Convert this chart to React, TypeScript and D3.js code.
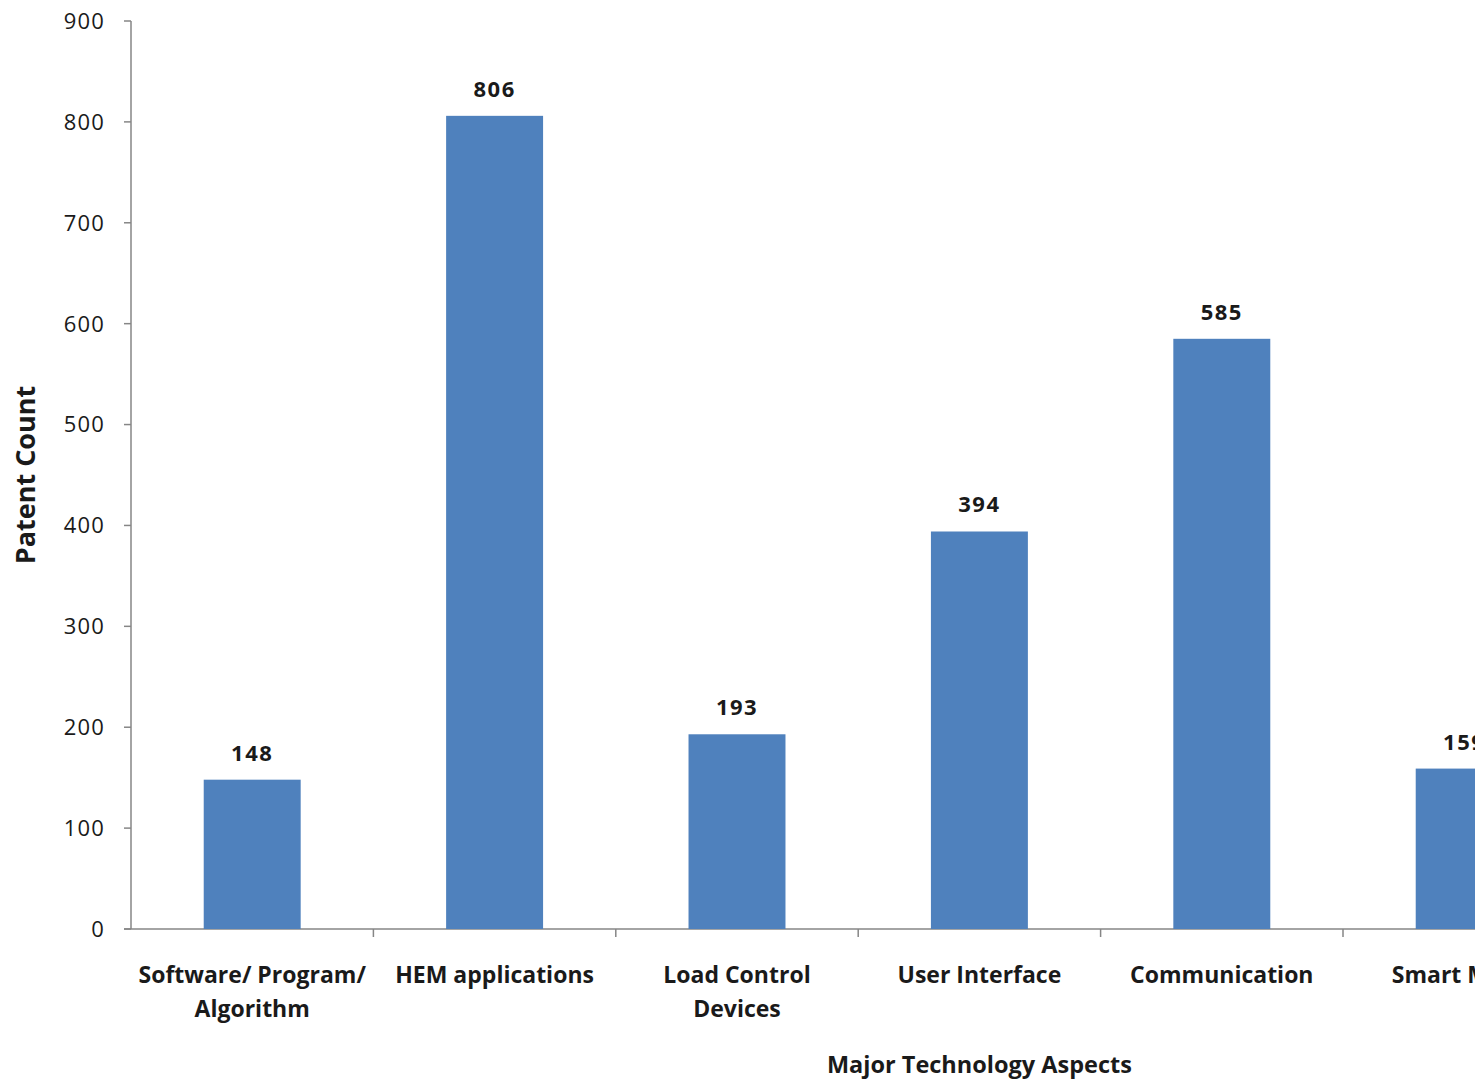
import React from "react";
import * as d3 from "d3";

const categories: string[][] = [
  ["Software/ Program/", "Algorithm"],
  ["HEM applications"],
  ["Load Control", "Devices"],
  ["User Interface"],
  ["Communication"],
  ["Smart Meter"],
];
const values: number[] = [148, 806, 193, 394, 585, 159];
const yTicks: number[] = [0, 100, 200, 300, 400, 500, 600, 700, 800, 900];

const W = 1475;
const H = 1081;
const left = 131;
const step = 242.4;
const top = 21;
const bottom = 929;
const font = "'Open Sans', 'Noto Sans', sans-serif";

export default function App() {
  const ids = categories.map((_, i) => String(i));
  const x = d3
    .scaleBand<string>()
    .domain(ids)
    .range([left, left + step * ids.length])
    .paddingInner(0.6)
    .paddingOuter(0.3);
  const y = d3.scaleLinear().domain([0, 900]).range([bottom, top]);
  const axisColor = "#868686";
  const bw = x.bandwidth();

  return (
    <svg
      width={W}
      height={H}
      style={{ position: "absolute", left: 0, top: 0, background: "#fff", overflow: "hidden" }}
      fontFamily={font}
    >
      <rect x={0} y={0} width={W} height={H} fill="#fff" />
      {/* y axis */}
      <line x1={left} x2={left} y1={top} y2={bottom} stroke={axisColor} strokeWidth={1.5} />
      {yTicks.map((t) => (
        <g key={t}>
          <line x1={left - 7} x2={left} y1={y(t)} y2={y(t)} stroke={axisColor} strokeWidth={1.5} />
          <text x={105} y={y(t)} dy="0.36em" textAnchor="end" fontSize={22} letterSpacing={1.2} fill="#1a1a1a">
            {t}
          </text>
        </g>
      ))}
      {/* x axis */}
      <line x1={left - 7} x2={W + 10} y1={bottom} y2={bottom} stroke={axisColor} strokeWidth={1.5} />
      {ids.map((id, i) => (
        <line
          key={"t" + id}
          x1={left + step * (i + 1)}
          x2={left + step * (i + 1)}
          y1={bottom}
          y2={bottom + 8}
          stroke={axisColor}
          strokeWidth={1.5}
        />
      ))}
      {/* bars */}
      {values.map((v, i) => (
        <g key={"b" + i}>
          <rect x={x(ids[i])!} y={y(v)} width={bw} height={bottom - y(v)} fill="#4F81BD" />
          <text
            x={x(ids[i])! + bw / 2}
            y={y(v) - 19}
            textAnchor="middle"
            fontSize={22}
            letterSpacing={1.5}
            fontWeight="bold"
            fill="#1a1a1a"
          >
            {v}
          </text>
        </g>
      ))}
      {/* category labels */}
      {categories.map((lines, i) => (
        <text
          key={"c" + i}
          x={x(ids[i])! + bw / 2}
          y={983}
          textAnchor="middle"
          fontSize={23}
          fontWeight="bold"
          fill="#1a1a1a"
        >
          {lines.map((l, j) => (
            <tspan key={j} x={x(ids[i])! + bw / 2} dy={j === 0 ? 0 : 34}>
              {l}
            </tspan>
          ))}
        </text>
      ))}
      <text
        x={left + step * 3.5}
        y={1073}
        textAnchor="middle"
        fontSize={23.5}
        fontWeight="bold"
        fill="#1a1a1a"
      >
        Major Technology Aspects
      </text>
      <text
        transform={`translate(35, ${(top + bottom) / 2}) rotate(-90)`}
        textAnchor="middle"
        fontSize={27}
        fontWeight="bold"
        fill="#1a1a1a"
      >
        Patent Count
      </text>
    </svg>
  );
}
